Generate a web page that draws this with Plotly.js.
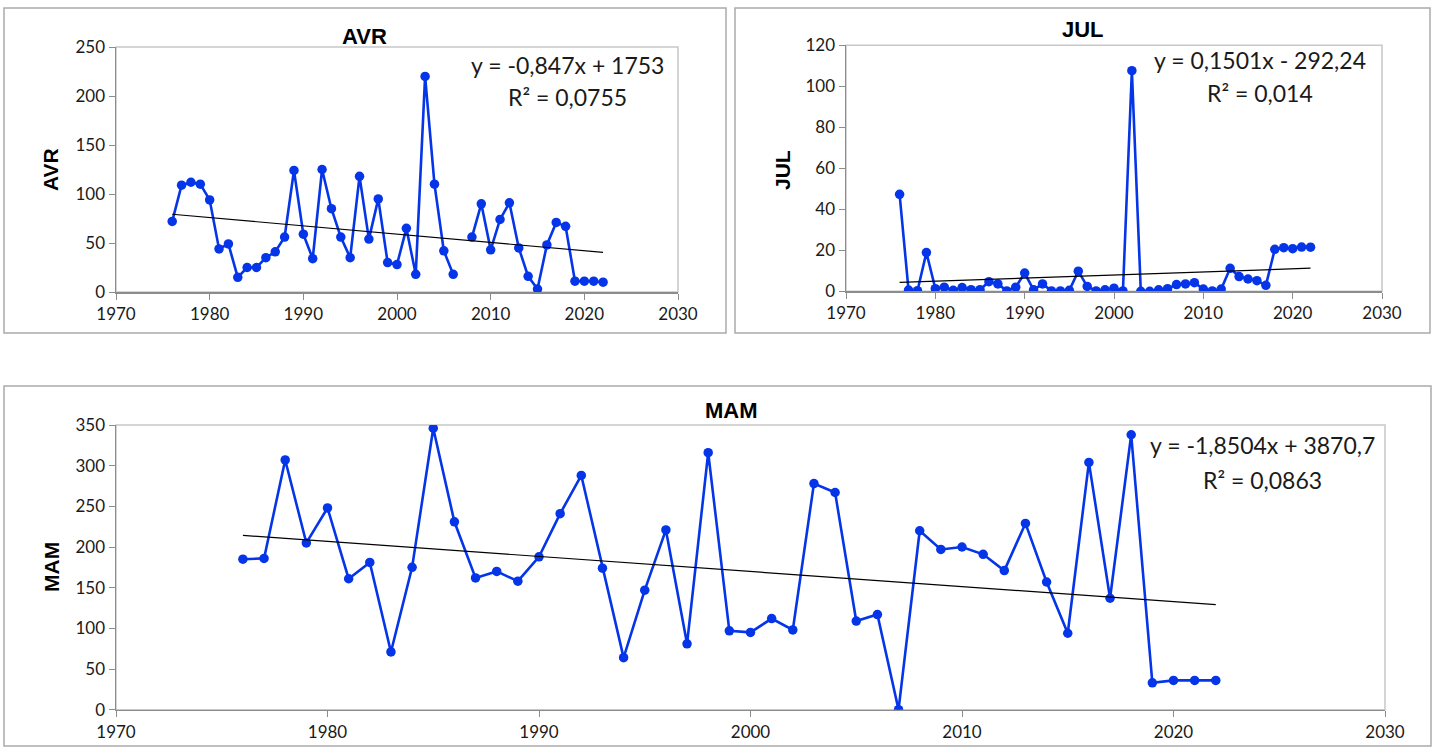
<!DOCTYPE html>
<html>
<head>
<meta charset="utf-8">
<script src="https://cdn.plot.ly/plotly-3.0.1.min.js"></script>
<style>html,body{margin:0;padding:0;background:#fff;}#chart{width:1444px;height:747px;}</style>
</head>
<body>
<div id="chart"></div>
<script>
// ---- data ----
const years = [1976,1977,1978,1979,1980,1981,1982,1983,1984,1985,1986,1987,1988,1989,1990,1991,1992,1993,1994,1995,1996,1997,1998,1999,2000,2001,2002,2003,2004,2005,2006,2007,2008,2009,2010,2011,2012,2013,2014,2015,2016,2017,2018,2019,2020,2021,2022];
const avr = [72,109,112,110,94,44,49,15,25,25,35,41,56,124,59,34,125,85,56,35,118,54,95,30,28,65,18,220,110,42,18,null,56,90,43,74,91,45,16,3,48,71,67,11,11,11,10];
const jul = [47.3,0.6,0.3,18.9,1.3,2,0.5,1.8,0.8,0.8,4.7,3.6,0.2,2,8.9,0.7,3.6,0.2,0.2,0.5,9.8,2.4,0.2,0.7,1.5,0.2,107.6,0,0,0.7,1.3,3.3,3.6,4.2,1.1,0.2,1.1,11.2,7.2,6,5.2,2.9,20.5,21.3,20.8,21.6,21.5];
const mam = [185,186,307,205,248,161,181,71,175,346,231,162,170,158,188,241,288,174,64,147,221,81,316,97,95,112,98,278,267,109,117,0,220,197,200,191,171,229,157,94,304,137,338,33,36,36,36];
// trend-line coefficients as printed on the chart [slope, intercept]
const avrTrend = [-0.847, 1753];
const julTrend = [0.1501, -292.24];
const mamTrend = [-1.8504, 3870.7];
const avrEq = ["y = -0,847x + 1753", "R² = 0,0755"];
const julEq = ["y = 0,1501x - 292,24", "R² = 0,014"];
const mamEq = ["y = -1,8504x + 3870,7", "R² = 0,0863"];
const xTicks = [1970,1980,1990,2000,2010,2020,2030];

// ---- helpers ----
const W = 1444, H = 747;
const px = v => v / W;
const py = v => 1 - v / H;
const BLUE = '#0535E8';
const TICKFONT = {family: 'Lato, "Open Sans", sans-serif', size: 17, color: '#1a1a1a'};

function trendEnds(c) {
  const x0 = years[0], x1 = years[years.length - 1];
  return {x: [x0, x1], y: [c[0] * x0 + c[1], c[0] * x1 + c[1]]};
}
function series(y, xa, ya) {
  return {x: years, y: y, xaxis: xa, yaxis: ya, type: 'scatter', mode: 'lines+markers',
    line: {color: BLUE, width: 2.6}, marker: {color: BLUE, size: 9.5}, connectgaps: false,
    hoverinfo: 'x+y', showlegend: false};
}
function trend(c, xa, ya) {
  const t = trendEnds(c);
  return {x: t.x, y: t.y, xaxis: xa, yaxis: ya, type: 'scatter', mode: 'lines',
    line: {color: '#000', width: 1.2}, hoverinfo: 'skip', showlegend: false};
}
function xax(domain, anchor) {
  return {domain: domain, anchor: anchor, range: [1970, 2030], tickvals: xTicks,
    showgrid: false, zeroline: false, showline: true, linecolor: '#8c8c8c', linewidth: 1.5,
    ticks: 'outside', ticklen: 6, tickcolor: '#8c8c8c', tickfont: TICKFONT, fixedrange: true};
}
function yax(domain, anchor, max, dt) {
  return {domain: domain, anchor: anchor, range: [0, max], dtick: dt, tick0: 0,
    showgrid: false, zeroline: false, showline: true, linecolor: '#8c8c8c', linewidth: 1.5,
    ticks: 'outside', ticklen: 6, tickcolor: '#8c8c8c', tickfont: TICKFONT, fixedrange: true};
}

const data = [
  series(avr, 'x', 'y'), trend(avrTrend, 'x', 'y'),
  series(jul, 'x2', 'y2'), trend(julTrend, 'x2', 'y2'),
  series(mam, 'x3', 'y3'), trend(mamTrend, 'x3', 'y3')
];

const EQFONT = {family: 'Lato, "Open Sans", sans-serif', size: 23, color: '#1a1a1a'};
const TFONT = {family: '"Liberation Sans", Arial, sans-serif', size: 22, color: '#000'};
function ann(text, x, y, font, extra) {
  return Object.assign({text: text, xref: 'paper', yref: 'paper', x: px(x), y: py(y),
    xanchor: 'center', yanchor: 'middle', showarrow: false, font: font}, extra || {});
}
const titleFont = Object.assign({}, TFONT);
const ytFont = Object.assign({}, TFONT, {size: 21});

const annotations = [
  ann('<b>AVR</b>', 365, 37, titleFont),
  ann('<b>JUL</b>', 1083, 29, titleFont),
  ann('<b>MAM</b>', 731, 410, titleFont),
  ann('<b>AVR</b>', 51, 170, ytFont, {textangle: -90}),
  ann('<b>JUL</b>', 783, 170, ytFont, {textangle: -90}),
  ann('<b>MAM</b>', 51, 567, ytFont, {textangle: -90}),
  ann(avrEq[0], 567, 65, EQFONT), ann(avrEq[1], 567, 97, EQFONT),
  ann(julEq[0], 1260, 60, EQFONT), ann(julEq[1], 1260, 93, EQFONT),
  ann(mamEq[0], 1262, 445, EQFONT), ann(mamEq[1], 1262, 480, EQFONT)
];

function box(x0, y0, x1, y1, col) {
  return {type: 'rect', xref: 'paper', yref: 'paper', x0: px(x0), x1: px(x1), y0: py(y1), y1: py(y0),
    line: {color: col, width: 1.5}, fillcolor: 'rgba(0,0,0,0)', layer: 'below'};
}
function frame(xa, ya) {
  return {type: 'rect', xref: xa + ' domain', yref: ya + ' domain', x0: 0, x1: 1, y0: 0, y1: 1,
    line: {color: '#c8c8c8', width: 1.5}, fillcolor: 'rgba(0,0,0,0)', layer: 'below'};
}
const shapes = [
  box(4, 8, 726, 333, '#ababab'),
  box(735, 8, 1430, 333, '#ababab'),
  box(4, 386, 1431, 746, '#ababab'),
  frame('x', 'y'), frame('x2', 'y2'), frame('x3', 'y3')
];

const layout = {
  width: W, height: H, margin: {l: 0, r: 0, t: 0, b: 0},
  paper_bgcolor: '#fff', plot_bgcolor: '#fff', showlegend: false,
  xaxis: xax([px(116), px(678)], 'y'),
  yaxis: yax([py(292), py(47)], 'x', 250, 50),
  xaxis2: xax([px(846), px(1382)], 'y2'),
  yaxis2: yax([py(291.3), py(45.3)], 'x2', 120, 20),
  xaxis3: xax([px(116), px(1385)], 'y3'),
  yaxis3: yax([py(709.7), py(425)], 'x3', 350, 50),
  annotations: annotations, shapes: shapes
};

Plotly.newPlot('chart', data, layout, {displayModeBar: false, staticPlot: true});
</script>
</body>
</html>
